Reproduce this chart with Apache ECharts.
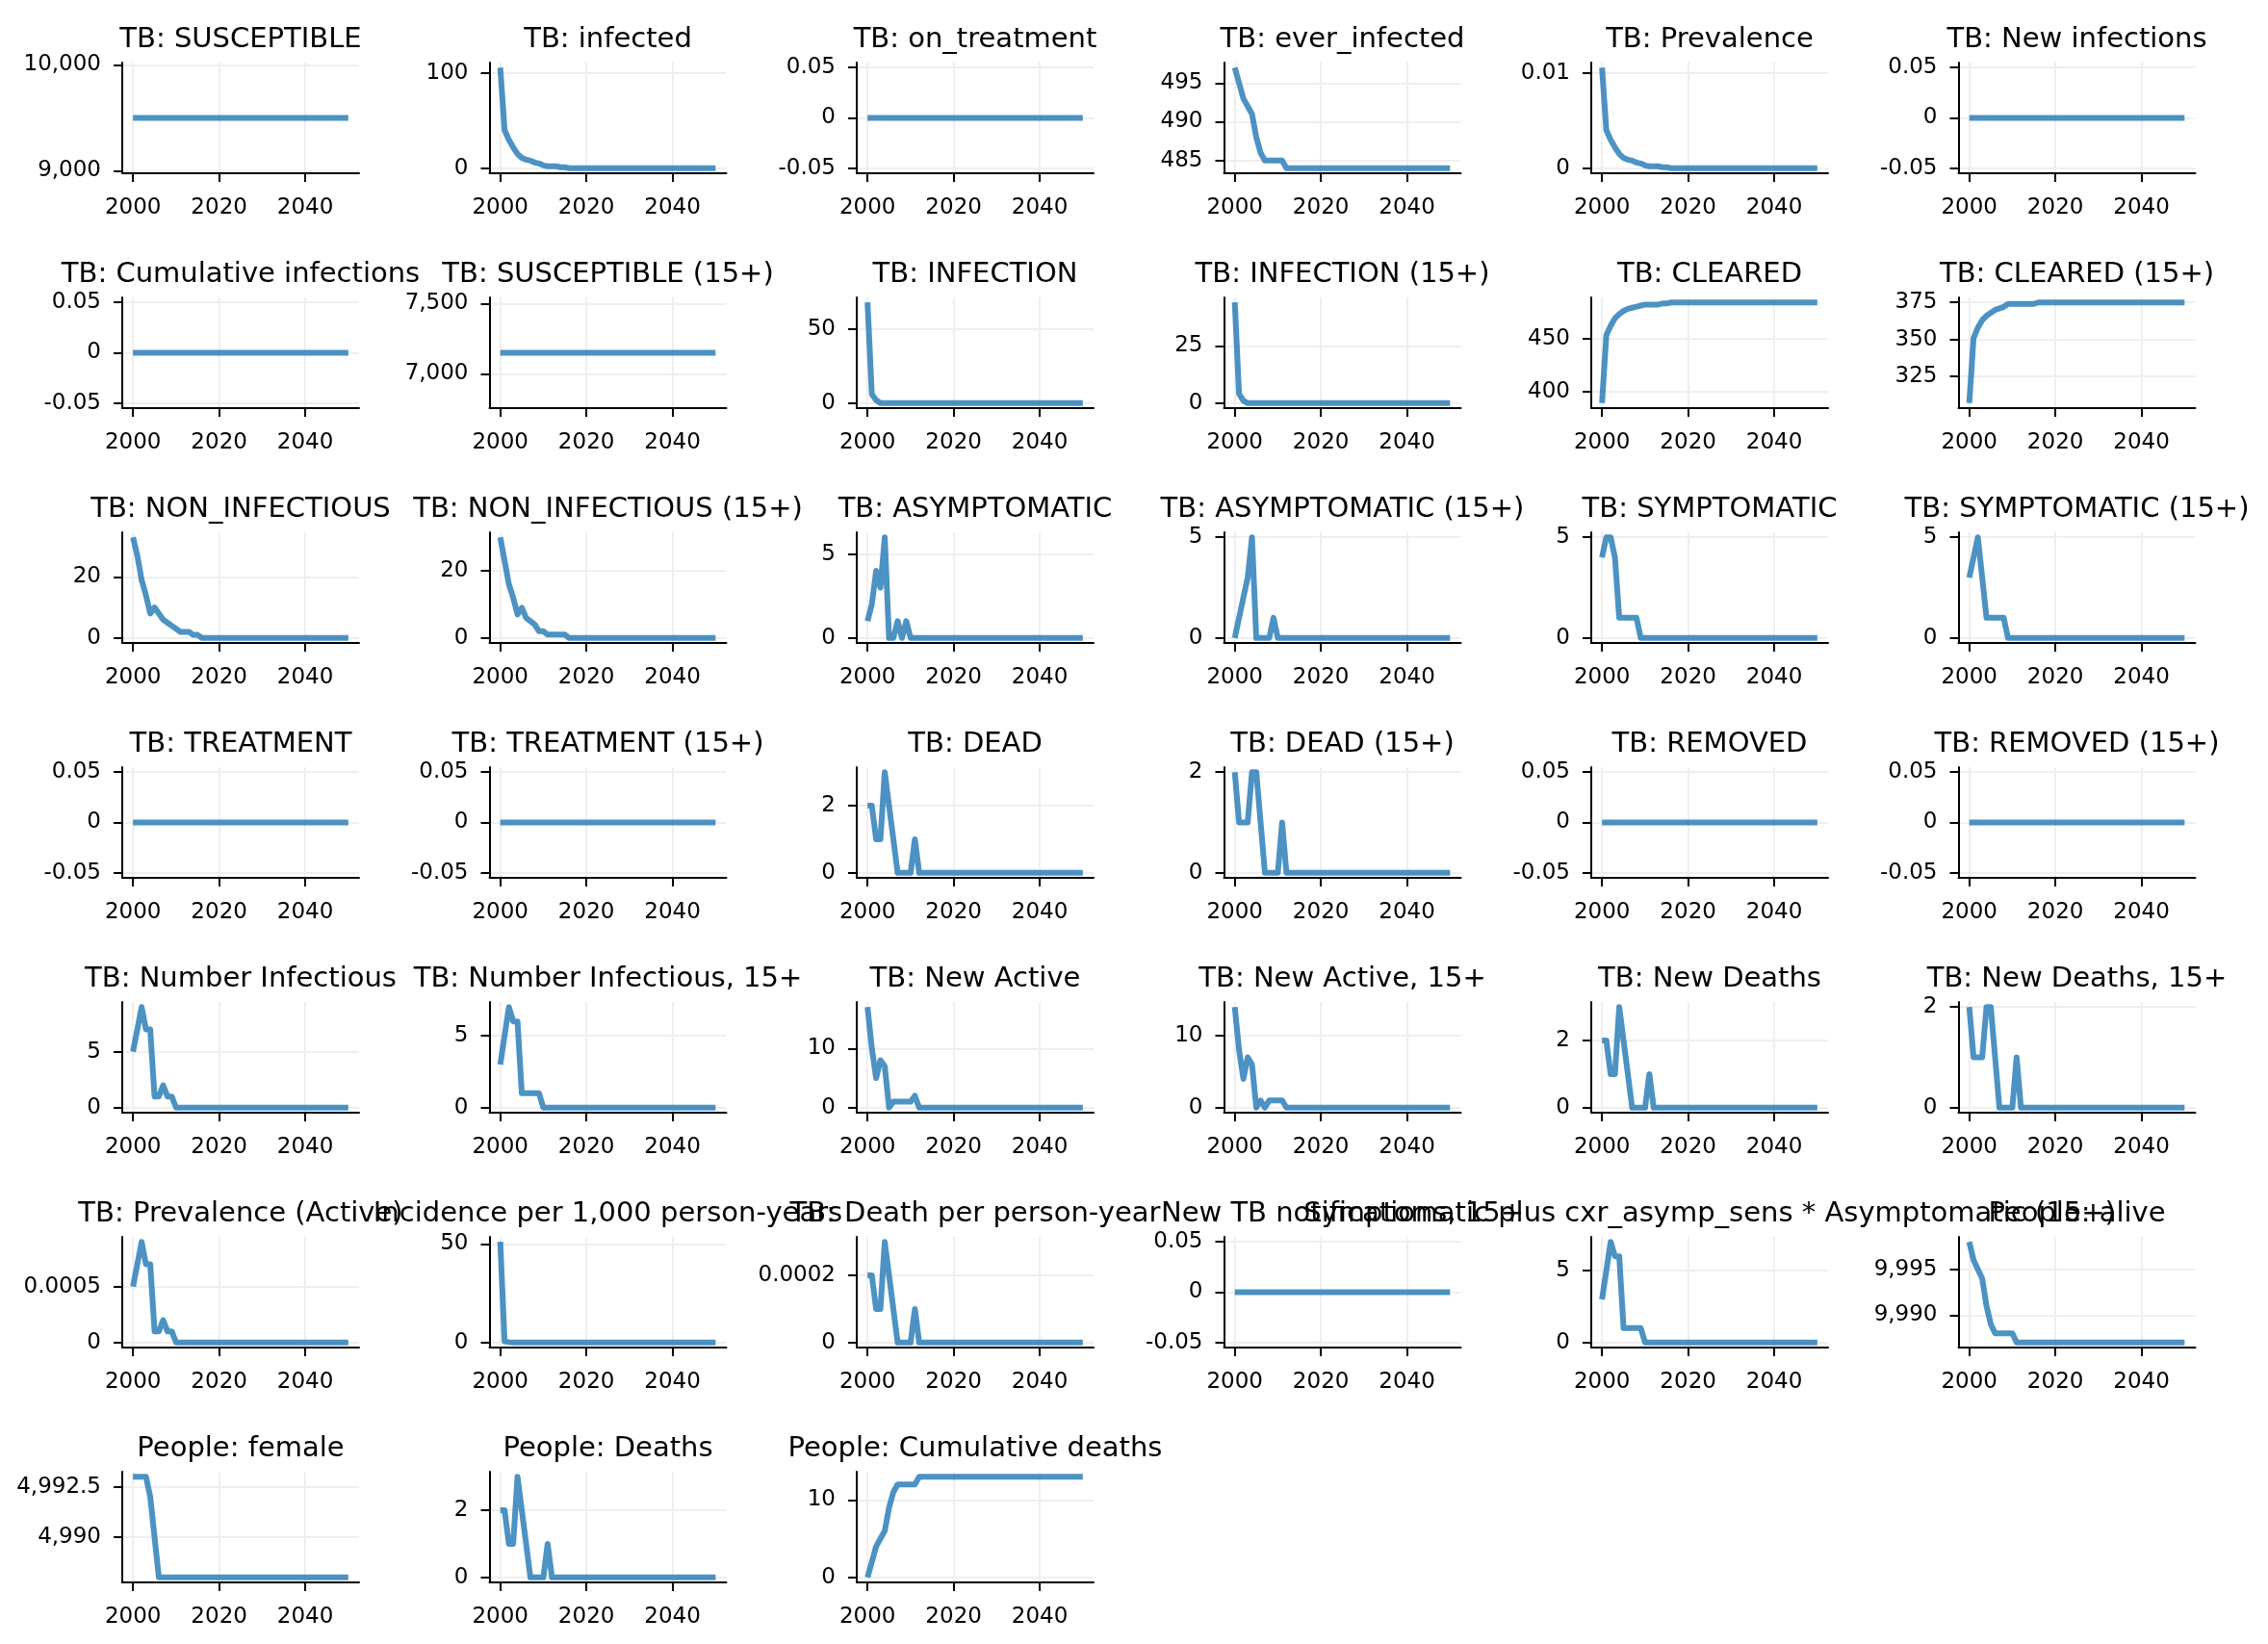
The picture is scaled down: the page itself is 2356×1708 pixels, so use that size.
<!DOCTYPE html>
<html lang="en">
<head>
<meta charset="UTF-8">
<title>TB model outputs</title>
<script src="https://cdn.jsdelivr.net/npm/echarts@6/dist/echarts.min.js"></script>
<style>
  html, body { margin: 0; padding: 0; background: #fff; }
  #chart { width: 2356px; height: 1708px; }
</style>
</head>
<body>
<div id="chart"></div>
<script>
// x values: one point per year
var years = [
    2000, 2001, 2002, 2003, 2004, 2005, 2006, 2007, 2008, 2009,
    2010, 2011, 2012, 2013, 2014, 2015, 2016, 2017, 2018, 2019,
    2020, 2021, 2022, 2023, 2024, 2025, 2026, 2027, 2028, 2029,
    2030, 2031, 2032, 2033, 2034, 2035, 2036, 2037, 2038, 2039,
    2040, 2041, 2042, 2043, 2044, 2045, 2046, 2047, 2048, 2049,
    2050
];
var xTicks = [2000, 2020, 2040];

// flat series (on_treatment, new infections, treatment, removed ...)
var flatZero = [
    0, 0, 0, 0, 0, 0, 0, 0, 0, 0,
    0, 0, 0, 0, 0, 0, 0, 0, 0, 0,
    0, 0, 0, 0, 0, 0, 0, 0, 0, 0,
    0, 0, 0, 0, 0, 0, 0, 0, 0, 0,
    0, 0, 0, 0, 0, 0, 0, 0, 0, 0,
    0
];
var susceptible = [
    9500, 9500, 9500, 9500, 9500, 9500, 9500, 9500, 9500, 9500,
    9500, 9500, 9500, 9500, 9500, 9500, 9500, 9500, 9500, 9500,
    9500, 9500, 9500, 9500, 9500, 9500, 9500, 9500, 9500, 9500,
    9500, 9500, 9500, 9500, 9500, 9500, 9500, 9500, 9500, 9500,
    9500, 9500, 9500, 9500, 9500, 9500, 9500, 9500, 9500, 9500,
    9500
];
var infected = [
    106, 40, 30, 22, 15, 11, 9, 8, 6, 5,
    3, 2, 2, 2, 1, 1, 0, 0, 0, 0,
    0, 0, 0, 0, 0, 0, 0, 0, 0, 0,
    0, 0, 0, 0, 0, 0, 0, 0, 0, 0,
    0, 0, 0, 0, 0, 0, 0, 0, 0, 0,
    0
];
var everInfected = [
    497, 495, 493, 492, 491, 488, 486, 485, 485, 485,
    485, 485, 484, 484, 484, 484, 484, 484, 484, 484,
    484, 484, 484, 484, 484, 484, 484, 484, 484, 484,
    484, 484, 484, 484, 484, 484, 484, 484, 484, 484,
    484, 484, 484, 484, 484, 484, 484, 484, 484, 484,
    484
];
var prevalence = [
    0.0106, 0.004, 0.003, 0.0022, 0.0015, 0.0011, 0.0009, 0.0008, 0.0006, 0.0005,
    0.0003, 0.0002, 0.0002, 0.0002, 0.0001, 0.0001, 0, 0, 0, 0,
    0, 0, 0, 0, 0, 0, 0, 0, 0, 0,
    0, 0, 0, 0, 0, 0, 0, 0, 0, 0,
    0, 0, 0, 0, 0, 0, 0, 0, 0, 0,
    0
];
var susceptible15 = [
    7150, 7150, 7150, 7150, 7150, 7150, 7150, 7150, 7150, 7150,
    7150, 7150, 7150, 7150, 7150, 7150, 7150, 7150, 7150, 7150,
    7150, 7150, 7150, 7150, 7150, 7150, 7150, 7150, 7150, 7150,
    7150, 7150, 7150, 7150, 7150, 7150, 7150, 7150, 7150, 7150,
    7150, 7150, 7150, 7150, 7150, 7150, 7150, 7150, 7150, 7150,
    7150
];
var infection = [
    68, 6, 2, 0, 0, 0, 0, 0, 0, 0,
    0, 0, 0, 0, 0, 0, 0, 0, 0, 0,
    0, 0, 0, 0, 0, 0, 0, 0, 0, 0,
    0, 0, 0, 0, 0, 0, 0, 0, 0, 0,
    0, 0, 0, 0, 0, 0, 0, 0, 0, 0,
    0
];
var infection15 = [
    44, 4, 1, 0, 0, 0, 0, 0, 0, 0,
    0, 0, 0, 0, 0, 0, 0, 0, 0, 0,
    0, 0, 0, 0, 0, 0, 0, 0, 0, 0,
    0, 0, 0, 0, 0, 0, 0, 0, 0, 0,
    0, 0, 0, 0, 0, 0, 0, 0, 0, 0,
    0
];
var cleared = [
    389, 453, 462, 469, 473, 476, 478, 479, 480, 481,
    482, 482, 482, 482, 483, 483, 484, 484, 484, 484,
    484, 484, 484, 484, 484, 484, 484, 484, 484, 484,
    484, 484, 484, 484, 484, 484, 484, 484, 484, 484,
    484, 484, 484, 484, 484, 484, 484, 484, 484, 484,
    484
];
var cleared15 = [
    307, 351, 358, 363, 366, 368, 370, 371, 372, 374,
    374, 374, 374, 374, 374, 374, 375, 375, 375, 375,
    375, 375, 375, 375, 375, 375, 375, 375, 375, 375,
    375, 375, 375, 375, 375, 375, 375, 375, 375, 375,
    375, 375, 375, 375, 375, 375, 375, 375, 375, 375,
    375
];
var nonInfectious = [
    33, 27, 19, 14, 8, 10, 8, 6, 5, 4,
    3, 2, 2, 2, 1, 1, 0, 0, 0, 0,
    0, 0, 0, 0, 0, 0, 0, 0, 0, 0,
    0, 0, 0, 0, 0, 0, 0, 0, 0, 0,
    0, 0, 0, 0, 0, 0, 0, 0, 0, 0,
    0
];
var nonInfectious15 = [
    30, 23, 16, 12, 7, 9, 6, 5, 4, 2,
    2, 1, 1, 1, 1, 1, 0, 0, 0, 0,
    0, 0, 0, 0, 0, 0, 0, 0, 0, 0,
    0, 0, 0, 0, 0, 0, 0, 0, 0, 0,
    0, 0, 0, 0, 0, 0, 0, 0, 0, 0,
    0
];
var asymptomatic = [
    1, 2, 4, 3, 6, 0, 0, 1, 0, 1,
    0, 0, 0, 0, 0, 0, 0, 0, 0, 0,
    0, 0, 0, 0, 0, 0, 0, 0, 0, 0,
    0, 0, 0, 0, 0, 0, 0, 0, 0, 0,
    0, 0, 0, 0, 0, 0, 0, 0, 0, 0,
    0
];
var asymptomatic15 = [
    0, 1, 2, 3, 5, 0, 0, 0, 0, 1,
    0, 0, 0, 0, 0, 0, 0, 0, 0, 0,
    0, 0, 0, 0, 0, 0, 0, 0, 0, 0,
    0, 0, 0, 0, 0, 0, 0, 0, 0, 0,
    0, 0, 0, 0, 0, 0, 0, 0, 0, 0,
    0
];
var symptomatic = [
    4, 5, 5, 4, 1, 1, 1, 1, 1, 0,
    0, 0, 0, 0, 0, 0, 0, 0, 0, 0,
    0, 0, 0, 0, 0, 0, 0, 0, 0, 0,
    0, 0, 0, 0, 0, 0, 0, 0, 0, 0,
    0, 0, 0, 0, 0, 0, 0, 0, 0, 0,
    0
];
var symptomatic15 = [
    3, 4, 5, 3, 1, 1, 1, 1, 1, 0,
    0, 0, 0, 0, 0, 0, 0, 0, 0, 0,
    0, 0, 0, 0, 0, 0, 0, 0, 0, 0,
    0, 0, 0, 0, 0, 0, 0, 0, 0, 0,
    0, 0, 0, 0, 0, 0, 0, 0, 0, 0,
    0
];
// DEAD, New Deaths and People: Deaths read the same off the picture
var dead = [
    2, 2, 1, 1, 3, 2, 1, 0, 0, 0,
    0, 1, 0, 0, 0, 0, 0, 0, 0, 0,
    0, 0, 0, 0, 0, 0, 0, 0, 0, 0,
    0, 0, 0, 0, 0, 0, 0, 0, 0, 0,
    0, 0, 0, 0, 0, 0, 0, 0, 0, 0,
    0
];
var dead15 = [
    2, 1, 1, 1, 2, 2, 1, 0, 0, 0,
    0, 1, 0, 0, 0, 0, 0, 0, 0, 0,
    0, 0, 0, 0, 0, 0, 0, 0, 0, 0,
    0, 0, 0, 0, 0, 0, 0, 0, 0, 0,
    0, 0, 0, 0, 0, 0, 0, 0, 0, 0,
    0
];
var numInfectious = [
    5, 7, 9, 7, 7, 1, 1, 2, 1, 1,
    0, 0, 0, 0, 0, 0, 0, 0, 0, 0,
    0, 0, 0, 0, 0, 0, 0, 0, 0, 0,
    0, 0, 0, 0, 0, 0, 0, 0, 0, 0,
    0, 0, 0, 0, 0, 0, 0, 0, 0, 0,
    0
];
var numInfectious15 = [
    3, 5, 7, 6, 6, 1, 1, 1, 1, 1,
    0, 0, 0, 0, 0, 0, 0, 0, 0, 0,
    0, 0, 0, 0, 0, 0, 0, 0, 0, 0,
    0, 0, 0, 0, 0, 0, 0, 0, 0, 0,
    0, 0, 0, 0, 0, 0, 0, 0, 0, 0,
    0
];
var newActive = [
    17, 10, 5, 8, 7, 0, 1, 1, 1, 1,
    1, 2, 0, 0, 0, 0, 0, 0, 0, 0,
    0, 0, 0, 0, 0, 0, 0, 0, 0, 0,
    0, 0, 0, 0, 0, 0, 0, 0, 0, 0,
    0, 0, 0, 0, 0, 0, 0, 0, 0, 0,
    0
];
var newActive15 = [
    14, 8, 4, 7, 6, 0, 1, 0, 1, 1,
    1, 1, 0, 0, 0, 0, 0, 0, 0, 0,
    0, 0, 0, 0, 0, 0, 0, 0, 0, 0,
    0, 0, 0, 0, 0, 0, 0, 0, 0, 0,
    0, 0, 0, 0, 0, 0, 0, 0, 0, 0,
    0
];
var prevActive = [
    0.0005, 0.0007, 0.0009, 0.0007, 0.0007, 0.0001, 0.0001, 0.0002, 0.0001, 0.0001,
    0, 0, 0, 0, 0, 0, 0, 0, 0, 0,
    0, 0, 0, 0, 0, 0, 0, 0, 0, 0,
    0, 0, 0, 0, 0, 0, 0, 0, 0, 0,
    0, 0, 0, 0, 0, 0, 0, 0, 0, 0,
    0
];
var incidence = [
    51, 0.6, 0.2, 0, 0, 0, 0, 0, 0, 0,
    0, 0, 0, 0, 0, 0, 0, 0, 0, 0,
    0, 0, 0, 0, 0, 0, 0, 0, 0, 0,
    0, 0, 0, 0, 0, 0, 0, 0, 0, 0,
    0, 0, 0, 0, 0, 0, 0, 0, 0, 0,
    0
];
var deathRate = [
    0.0002, 0.0002, 0.0001, 0.0001, 0.0003, 0.0002, 0.0001, 0, 0, 0,
    0, 0.0001, 0, 0, 0, 0, 0, 0, 0, 0,
    0, 0, 0, 0, 0, 0, 0, 0, 0, 0,
    0, 0, 0, 0, 0, 0, 0, 0, 0, 0,
    0, 0, 0, 0, 0, 0, 0, 0, 0, 0,
    0
];
var sympPlusCxr = [
    3, 5, 7, 6, 6, 1, 1, 1, 1, 1,
    0, 0, 0, 0, 0, 0, 0, 0, 0, 0,
    0, 0, 0, 0, 0, 0, 0, 0, 0, 0,
    0, 0, 0, 0, 0, 0, 0, 0, 0, 0,
    0, 0, 0, 0, 0, 0, 0, 0, 0, 0,
    0
];
var alive = [
    9998, 9996, 9995, 9994, 9991, 9989, 9988, 9988, 9988, 9988,
    9988, 9987, 9987, 9987, 9987, 9987, 9987, 9987, 9987, 9987,
    9987, 9987, 9987, 9987, 9987, 9987, 9987, 9987, 9987, 9987,
    9987, 9987, 9987, 9987, 9987, 9987, 9987, 9987, 9987, 9987,
    9987, 9987, 9987, 9987, 9987, 9987, 9987, 9987, 9987, 9987,
    9987
];
var female = [
    4993, 4993, 4993, 4993, 4992, 4990, 4988, 4988, 4988, 4988,
    4988, 4988, 4988, 4988, 4988, 4988, 4988, 4988, 4988, 4988,
    4988, 4988, 4988, 4988, 4988, 4988, 4988, 4988, 4988, 4988,
    4988, 4988, 4988, 4988, 4988, 4988, 4988, 4988, 4988, 4988,
    4988, 4988, 4988, 4988, 4988, 4988, 4988, 4988, 4988, 4988,
    4988
];
var cumDeaths = [
    0, 2, 4, 5, 6, 9, 11, 12, 12, 12,
    12, 12, 13, 13, 13, 13, 13, 13, 13, 13,
    13, 13, 13, 13, 13, 13, 13, 13, 13, 13,
    13, 13, 13, 13, 13, 13, 13, 13, 13, 13,
    13, 13, 13, 13, 13, 13, 13, 13, 13, 13,
    13
];

var titles = [
    'TB: SUSCEPTIBLE', 'TB: infected', 'TB: on_treatment', 'TB: ever_infected', 'TB: Prevalence', 'TB: New infections',
    'TB: Cumulative infections', 'TB: SUSCEPTIBLE (15+)', 'TB: INFECTION', 'TB: INFECTION (15+)', 'TB: CLEARED', 'TB: CLEARED (15+)',
    'TB: NON_INFECTIOUS', 'TB: NON_INFECTIOUS (15+)', 'TB: ASYMPTOMATIC', 'TB: ASYMPTOMATIC (15+)', 'TB: SYMPTOMATIC', 'TB: SYMPTOMATIC (15+)',
    'TB: TREATMENT', 'TB: TREATMENT (15+)', 'TB: DEAD', 'TB: DEAD (15+)', 'TB: REMOVED', 'TB: REMOVED (15+)',
    'TB: Number Infectious', 'TB: Number Infectious, 15+', 'TB: New Active', 'TB: New Active, 15+', 'TB: New Deaths', 'TB: New Deaths, 15+',
    'TB: Prevalence (Active)', 'Incidence per 1,000 person-years', 'TB: Death per person-year', 'New TB notifications, 15+',
    'Symptomatic plus cxr_asymp_sens * Asymptomatic (15+)', 'People: alive',
    'People: female', 'People: Deaths', 'People: Cumulative deaths'
];
var seriesData = [
    susceptible, infected, flatZero, everInfected, prevalence, flatZero,
    flatZero, susceptible15, infection, infection15, cleared, cleared15,
    nonInfectious, nonInfectious15, asymptomatic, asymptomatic15, symptomatic, symptomatic15,
    flatZero, flatZero, dead, dead15, flatZero, flatZero,
    numInfectious, numInfectious15, newActive, newActive15, dead, dead15,
    prevActive, incidence, deathRate, flatZero, sympPlusCxr, alive,
    female, dead, cumDeaths
];
var yTicks = [
    [9000, 10000], [0, 100], [-0.05, 0, 0.05], [485, 490, 495], [0, 0.01], [-0.05, 0, 0.05],
    [-0.05, 0, 0.05], [7000, 7500], [0, 50], [0, 25], [400, 450], [325, 350, 375],
    [0, 20], [0, 20], [0, 5], [0, 5], [0, 5], [0, 5],
    [-0.05, 0, 0.05], [-0.05, 0, 0.05], [0, 2], [0, 2], [-0.05, 0, 0.05], [-0.05, 0, 0.05],
    [0, 5], [0, 5], [0, 10], [0, 10], [0, 2], [0, 2],
    [0, 0.0005], [0, 50], [0, 0.0002], [-0.05, 0, 0.05], [0, 5], [9990, 9995],
    [4990, 4992.5], [0, 2], [0, 10]
];

// matplotlib style auto limits: nonsingular expansion, then 5% margins
function autoLimits(vals) {
    var lo = vals[0], hi = vals[0];
    for (var j = 1; j < vals.length; j++) {
        if (vals[j] < lo) lo = vals[j];
        if (vals[j] > hi) hi = vals[j];
    }
    if (hi - lo <= Math.max(Math.abs(lo), Math.abs(hi)) * 1e-15) {
        if (lo === 0 && hi === 0) { lo = -0.05; hi = 0.05; }
        else { lo -= 0.05 * Math.abs(lo); hi += 0.05 * Math.abs(hi); }
    }
    var d = (hi - lo) * 0.05;
    return [lo - d, hi + d];
}

function fmt(v) {
    return Math.abs(v) >= 1000 ? String(v).replace(/\B(?=(\d{3})+(?!\d))/, ',') : String(v);
}

var FONT = 'DejaVu Sans';
var LEFT0 = 127, COLSTEP = 381.5, TOP0 = 65, ROWSTEP = 244, W = 246, H = 115;

function build(custom) {
    var o = {animation: false, backgroundColor: '#fff', title: [], grid: [], xAxis: [], yAxis: [], series: []};
    for (var i = 0; i < titles.length; i++) {
        var r = Math.floor(i / 6), c = i % 6;
        var left = LEFT0 + COLSTEP * c, top = TOP0 + ROWSTEP * r;
        var lim = autoLimits(seriesData[i]);

        o.title.push({
            text: titles[i], left: left + W / 2, top: top - 38, textAlign: 'center', padding: 0,
            textStyle: {fontFamily: FONT, fontSize: 29, fontWeight: 'normal', color: '#000'}
        });
        o.grid.push({left: left, top: top, width: W, height: H});

        var xa = {
            type: 'value', gridIndex: i, min: 1997.5, max: 2052.5,
            axisLine: {show: true, onZero: false, lineStyle: {color: '#000', width: 2}},
            splitLine: {show: true, lineStyle: {color: '#efefef', width: 2}},
            axisTick: {show: true, length: 9, lineStyle: {color: '#000', width: 2}},
            axisLabel: {margin: 25, fontFamily: FONT, fontSize: 23, color: '#000',
                formatter: function (v) { return String(v); }}
        };
        var ya = {
            type: 'value', gridIndex: i, min: lim[0], max: lim[1],
            axisLine: {show: true, onZero: false, lineStyle: {color: '#000', width: 2}},
            splitLine: {show: true, lineStyle: {color: '#efefef', width: 2}},
            axisTick: {show: true, length: 9, lineStyle: {color: '#000', width: 2}},
            axisLabel: {margin: 22, fontFamily: FONT, fontSize: 23, color: '#000', formatter: fmt}
        };
        if (custom) {
            xa.axisTick.customValues = xTicks.slice();
            xa.axisLabel.customValues = xTicks.slice();
            ya.axisTick.customValues = yTicks[i].slice();
            ya.axisLabel.customValues = yTicks[i].slice();
        }
        o.xAxis.push(xa);
        o.yAxis.push(ya);

        var pts = [];
        for (var k = 0; k < years.length; k++) {
            pts.push([years[k], seriesData[i][k]]);
        }
        o.series.push({
            type: 'line', xAxisIndex: i, yAxisIndex: i, data: pts,
            showSymbol: false, symbol: 'none',
            lineStyle: {color: 'rgba(31,119,180,0.8)', width: 6, join: 'round', cap: 'butt'}
        });
    }
    return o;
}

var myChart = echarts.init(document.getElementById('chart'));
try {
    myChart.setOption(build(true));
} catch (e) {
    myChart.dispose();
    myChart = echarts.init(document.getElementById('chart'));
    myChart.setOption(build(false));
}
</script>
</body>
</html>
